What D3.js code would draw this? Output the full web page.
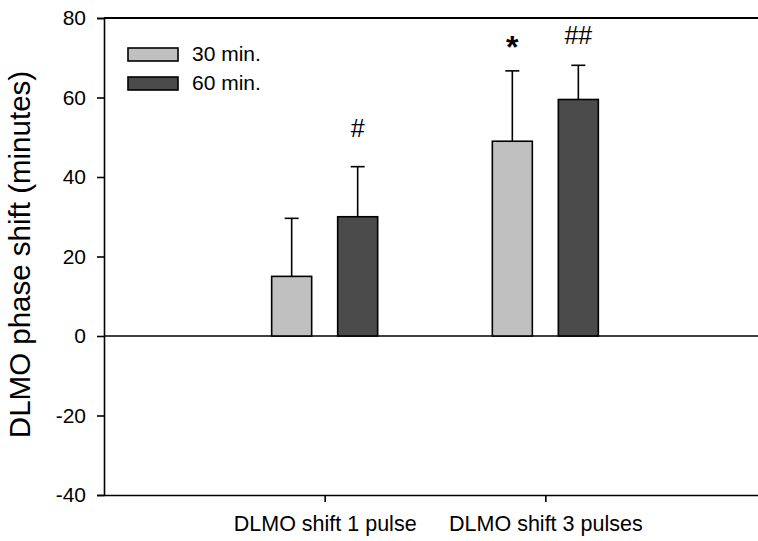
<!DOCTYPE html>
<html>
<head>
<meta charset="utf-8">
<script src="https://cdn.jsdelivr.net/npm/d3@7"></script>
<style>
  body { margin: 0; background: #fff; }
  svg text { font-family: "Liberation Sans", Arial, sans-serif; fill: #000; }
</style>
</head>
<body>
<div class="container"></div>
<script>
// data
const groups = ['DLMO shift 1 pulse', 'DLMO shift 3 pulses'];
const series = ['30 min.', '60 min.'];
const colors = ['#c0c0c0', '#4b4b4b'];
const means30 = [15, 49];
const means60 = [30, 59.5];
const err30 = [14.6, 17.7];
const err60 = [12.6, 8.6];
const yTicks = [-40, -20, 0, 20, 40, 60, 80];
// significance marks: group index, series index, label, y value
const marks = [
    {g: 1, s: 0, label: '*', y: 74.5, bold: true},
    {g: 0, s: 1, label: '#', y: 51.8},
    {g: 1, s: 1, label: '##', y: 75.2}
];

const width = 758, height = 541;
const margin = {top: 18, right: 0, bottom: 46, left: 104};
const innerW = width - margin.left - margin.right;
const innerH = height - margin.top - margin.bottom;

const rows = [];
groups.forEach((g, i) => {
    rows.push({g: g, s: series[0], v: means30[i], e: err30[i], c: colors[0]});
    rows.push({g: g, s: series[1], v: means60[i], e: err60[i], c: colors[1]});
});

const svg = d3.select('.container')
    .append('svg')
    .attr('width', width)
    .attr('height', height);

const plot = svg.append('g')
    .attr('transform', `translate(${margin.left},${margin.top})`);

const y = d3.scaleLinear().domain([-40, 80]).range([innerH, 0]);
const x0 = d3.scalePoint().domain(groups).range([0, innerW + 8]).padding(1);
const x1 = d3.scaleBand().domain(series).range([-53, 53]).paddingInner(0.394);

// zero line
plot.append('line')
    .attr('x1', 0).attr('x2', innerW)
    .attr('y1', y(0)).attr('y2', y(0))
    .attr('stroke', '#000').attr('stroke-width', 1.6);

// error bars (upper only)
const cap = 7;
const eb = plot.append('g').attr('class', 'errors');
rows.forEach(d => {
    const cx = x0(d.g) + x1(d.s) + x1.bandwidth() / 2;
    eb.append('line')
        .attr('x1', cx).attr('x2', cx)
        .attr('y1', y(d.v)).attr('y2', y(d.v + d.e))
        .attr('stroke', '#000').attr('stroke-width', 1.6);
    eb.append('line')
        .attr('x1', cx - cap).attr('x2', cx + cap)
        .attr('y1', y(d.v + d.e)).attr('y2', y(d.v + d.e))
        .attr('stroke', '#000').attr('stroke-width', 1.6);
});

// bars
plot.append('g')
    .selectAll('rect')
    .data(rows)
    .enter().append('rect')
    .attr('x', d => x0(d.g) + x1(d.s))
    .attr('width', x1.bandwidth())
    .attr('y', d => y(Math.max(0, d.v)))
    .attr('height', d => Math.abs(y(d.v) - y(0)))
    .attr('fill', d => d.c)
    .attr('stroke', '#000')
    .attr('stroke-width', 1.6);

// marks above bars
plot.append('g')
    .selectAll('text')
    .data(marks)
    .enter().append('text')
    .attr('x', d => x0(groups[d.g]) + x1(series[d.s]) + x1.bandwidth() / 2)
    .attr('y', d => y(d.y))
    .attr('text-anchor', 'middle')
    .attr('dominant-baseline', 'middle')
    .style('font-size', d => d.bold ? '32px' : '25px')
    .style('font-weight', d => d.bold ? 'bold' : 'normal')
    .attr('dy', d => d.bold ? '0.3em' : 0)
    .text(d => d.label);

// y axis
const yAxis = plot.append('g')
    .call(d3.axisLeft(y).tickValues(yTicks).tickFormat(d => String(d)).tickSize(7).tickPadding(11));
yAxis.select('.domain').attr('stroke-width', 1.6);
yAxis.selectAll('.tick line').attr('stroke-width', 1.6);
yAxis.selectAll('.tick text').style('font-size', '21px');

// x axis
const xAxis = plot.append('g')
    .attr('transform', `translate(0,${innerH})`)
    .call(d3.axisBottom(x0).tickSize(7).tickPadding(14).tickSizeOuter(0));
xAxis.select('.domain').attr('stroke-width', 1.6);
xAxis.selectAll('.tick line').attr('stroke-width', 1.6);
xAxis.selectAll('.tick text').style('font-size', '21.5px');

// top frame line
plot.append('line')
    .attr('x1', 0).attr('x2', innerW)
    .attr('y1', 0).attr('y2', 0)
    .attr('stroke', '#000').attr('stroke-width', 2);

// y title
svg.append('text')
    .attr('transform', `translate(30,${margin.top + innerH / 2 - 2}) rotate(-90)`)
    .attr('text-anchor', 'middle')
    .style('font-size', '29.5px')
    .text('DLMO phase shift (minutes)');

// legend
const legend = plot.append('g').attr('transform', 'translate(24,30)');
series.forEach((s, i) => {
    const row = legend.append('g').attr('transform', `translate(0,${i * 29})`);
    row.append('rect')
        .attr('width', 50).attr('height', 13)
        .attr('fill', colors[i])
        .attr('stroke', '#000').attr('stroke-width', 1.6);
    row.append('text')
        .attr('x', 64).attr('y', 7)
        .attr('dominant-baseline', 'middle')
        .style('font-size', '21px')
        .text(s);
});
</script>
</body>
</html>
